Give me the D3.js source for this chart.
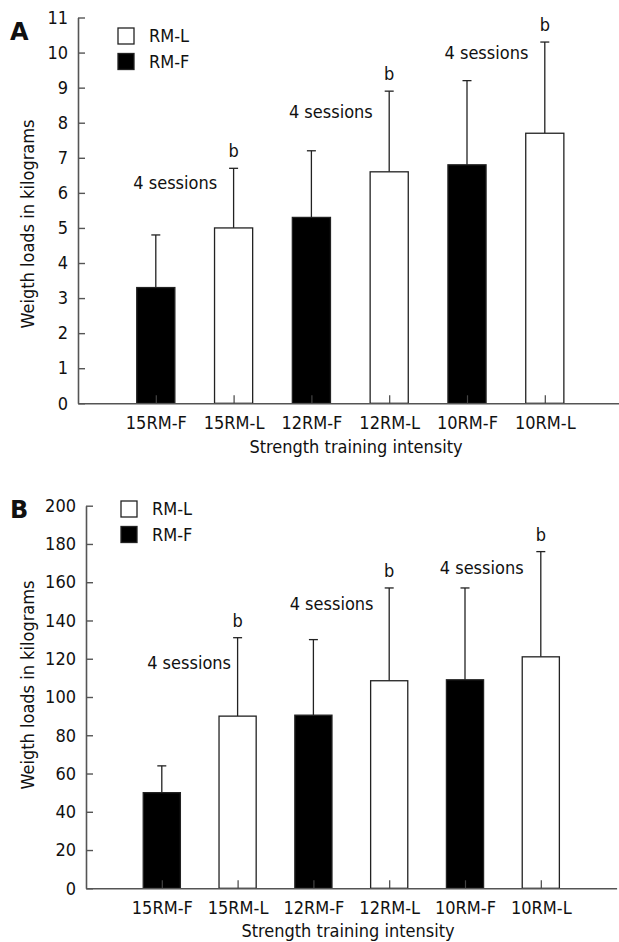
<!doctype html>
<html>
<head>
<meta charset="utf-8">
<title>Strength training intensity</title>
<script src="https://cdn.jsdelivr.net/npm/d3@7"></script>
<style>
  body { margin:0; background:#fff; }
  svg text { font-family:"DejaVu Sans Condensed","DejaVu Sans",sans-serif; font-stretch:condensed; fill:#111; }
</style>
</head>
<body>
<script>
// data
var categories = ["15RM-F","15RM-L","12RM-F","12RM-L","10RM-F","10RM-L"];
var groups = ["F","L","F","L","F","L"];
var sigMark = ["","b","","b","","b"];

var meansA = [3.3, 5.0, 5.3, 6.6, 6.8, 7.7];
var sdA    = [1.5, 1.7, 1.9, 2.3, 2.4, 2.6];
var ticksA = [0,1,2,3,4,5,6,7,8,9,10,11];
var sessionsA = [[1.25, 6.3], [3.25, 8.3], [5.25, 10.0]];

var meansB = [50, 90, 90.5, 108.5, 109, 121];
var sdB    = [14, 41, 39.5, 48.5, 48, 55];
var ticksB = [0,20,40,60,80,100,120,140,160,180,200];
var sessionsB = [[1.36, 118], [3.24, 149], [5.22, 167.5]];

var legendNames = ["RM-L","RM-F"];

var W = 619, H = 942;
var svg = d3.select("body").append("svg").attr("width", W).attr("height", H);

function drawPanel(p) {
    var g = svg.append("g");
    var x = d3.scaleLinear().domain([0, 7]).range([p.left, p.left + 7*p.step]);
    var y = d3.scaleLinear().domain([0, p.max]).range([p.bottom, p.top]);
    var bw = p.step * 0.49;

    var data = categories.map(function(c, i){
        return {cat:c, i:i+1, m:p.means[i], sd:p.sd[i], grp:groups[i], sig:sigMark[i]};
    });

    // error bars (upper only)
    g.selectAll(".err").data(data).enter().append("line")
        .attr("x1", function(d){ return x(d.i); })
        .attr("x2", function(d){ return x(d.i); })
        .attr("y1", function(d){ return y(d.m); })
        .attr("y2", function(d){ return y(d.m + d.sd); })
        .attr("stroke", "#222").attr("stroke-width", 1.3);
    g.selectAll(".cap").data(data).enter().append("line")
        .attr("x1", function(d){ return x(d.i) - 4.5; })
        .attr("x2", function(d){ return x(d.i) + 4.5; })
        .attr("y1", function(d){ return y(d.m + d.sd); })
        .attr("y2", function(d){ return y(d.m + d.sd); })
        .attr("stroke", "#222").attr("stroke-width", 1.3);

    // bars
    g.selectAll(".bar").data(data).enter().append("rect")
        .attr("x", function(d){ return x(d.i) - bw/2; })
        .attr("width", bw)
        .attr("y", function(d){ return y(d.m); })
        .attr("height", function(d){ return y(0) - y(d.m); })
        .attr("fill", function(d){ return d.grp == "F" ? "#000" : "#fff"; })
        .attr("stroke", "#222").attr("stroke-width", 1.3);

    // significance letters
    g.selectAll(".sig").data(data.filter(function(d){ return d.sig; })).enter().append("text")
        .attr("x", function(d){ return x(d.i); })
        .attr("y", function(d){ return y(d.m + d.sd) - 11; })
        .attr("text-anchor", "middle")
        .attr("font-size", "18px")
        .text(function(d){ return d.sig; });

    // "4 sessions" notes
    g.selectAll(".ses").data(p.sessions).enter().append("text")
        .attr("x", function(d){ return x(d[0]); })
        .attr("y", function(d){ return y(d[1]); })
        .attr("dy", "0.35em")
        .attr("text-anchor", "middle")
        .attr("font-size", "18px")
        .text("4 sessions");

    // x axis, ticks pointing up into the plot
    var xAxis = g.append("g")
        .attr("transform", "translate(0," + p.bottom + ")")
        .call(d3.axisBottom(x).tickValues([1,2,3,4,5,6])
            .tickFormat(function(d){ return categories[d-1]; })
            .tickSize(-8).tickSizeOuter(0).tickPadding(13));
    xAxis.selectAll("text").attr("font-size", "18px").attr("font-family", null).attr("fill", "#111");
    xAxis.select(".domain").attr("stroke", "#555").attr("stroke-width", 1.6);
    xAxis.selectAll(".tick line").attr("stroke", "#444").attr("stroke-width", 1.2);
    xAxis.attr("font-family", null);

    // y axis
    var yAxis = g.append("g")
        .attr("transform", "translate(" + p.left + ",0)")
        .call(d3.axisLeft(y).tickValues(p.ticks).tickSize(-7).tickSizeOuter(0).tickPadding(10));
    yAxis.selectAll("text").attr("font-size", "18px").attr("fill", "#111");
    yAxis.select(".domain").attr("stroke", "#555").attr("stroke-width", 1.6);
    yAxis.selectAll(".tick line").attr("stroke", "#555").attr("stroke-width", 1.4);
    yAxis.attr("font-family", null);

    // axis titles
    g.append("text")
        .attr("transform", "translate(28," + p.yTitle + ") rotate(-90)")
        .attr("dy", "0.35em")
        .attr("text-anchor", "middle")
        .attr("font-size", "18px")
        .text("Weigth loads in kilograms");
    g.append("text")
        .attr("x", p.xTitleX).attr("y", p.xTitleY)
        .attr("dy", "0.35em")
        .attr("text-anchor", "middle")
        .attr("font-size", "18px")
        .text("Strength training intensity");

    // legend
    legendNames.forEach(function(n, k){
        g.append("rect")
            .attr("x", p.legX).attr("y", p.legY + k*25.5)
            .attr("width", 16).attr("height", 16)
            .attr("fill", k == 0 ? "#fff" : "#000")
            .attr("stroke", "#222").attr("stroke-width", 1.3);
        g.append("text")
            .attr("x", p.legX + 31).attr("y", p.legY + 8 + k*25.5)
            .attr("dy", "0.35em")
            .attr("font-size", "18px")
            .text(n);
    });

    // panel letter
    g.append("text")
        .attr("x", 10).attr("y", p.letterY)
        .attr("dy", "0.35em")
        .attr("font-size", "24px")
        .attr("font-weight", "bold")
        .style("font-family", "'DejaVu Sans', sans-serif")
        .style("font-stretch", "normal")
        .text(p.letter);
}

drawPanel({letter:"A", letterY:32, left:78, step:77.8, top:17.5, bottom:403.3, max:11,
    means:meansA, sd:sdA, ticks:ticksA, sessions:sessionsA,
    yTitle:224, xTitleX:356, xTitleY:447, legX:118, legY:28});

drawPanel({letter:"B", letterY:510, left:86, step:75.8, top:505.7, bottom:888.3, max:200,
    means:meansB, sd:sdB, ticks:ticksB, sessions:sessionsB,
    yTitle:685, xTitleX:348, xTitleY:931, legX:121, legY:501});
</script>
</body>
</html>
